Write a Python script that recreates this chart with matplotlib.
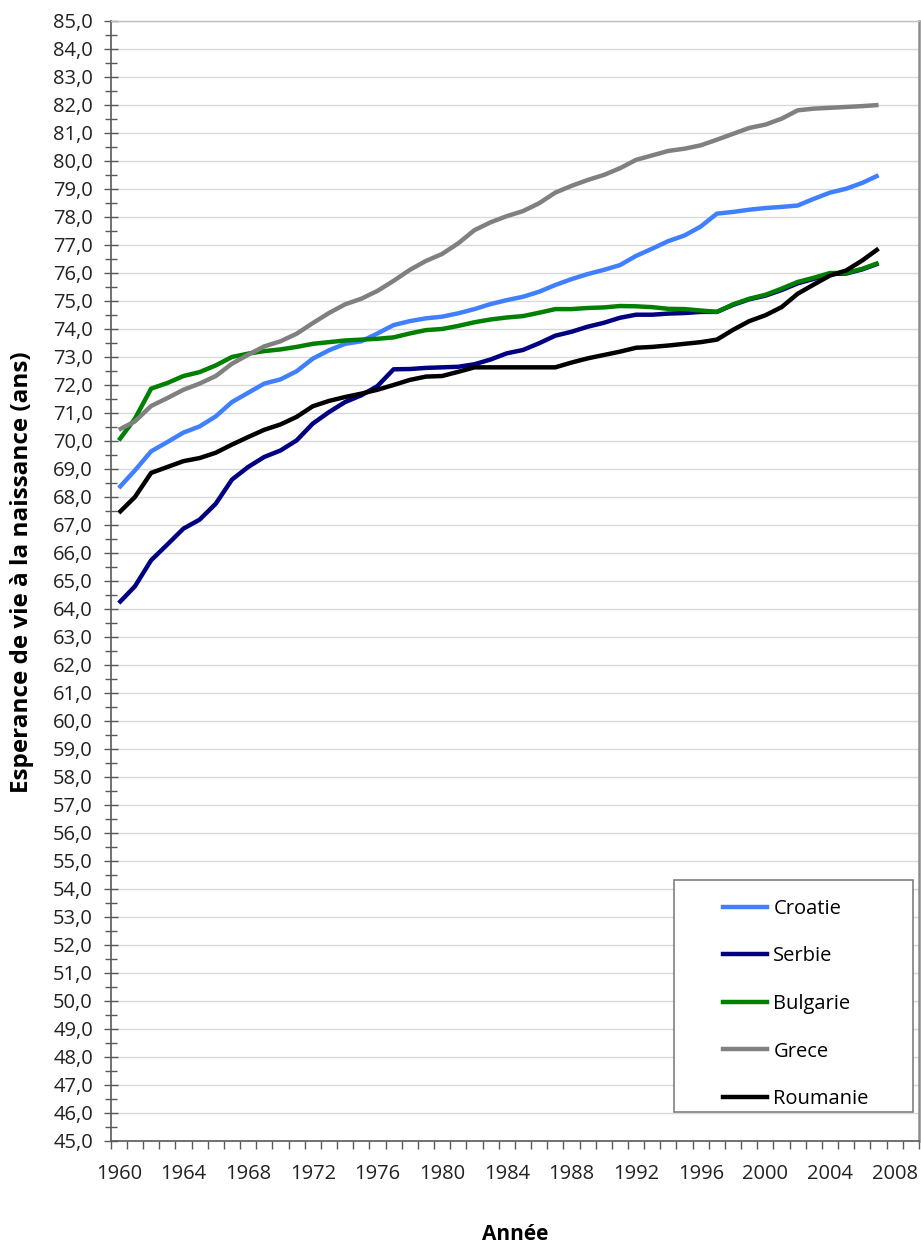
import matplotlib
matplotlib.use("Agg")
import matplotlib.pyplot as plt
from matplotlib.ticker import FixedLocator, MultipleLocator, FuncFormatter
from matplotlib.patches import Rectangle
from matplotlib.lines import Line2D

plt.rcParams['font.family'] = ['Open Sans', 'DejaVu Sans']

years = list(range(1960, 2008))

croatie = [68.31, 68.94, 69.62, 69.95, 70.29, 70.51, 70.87, 71.38, 71.71, 72.04,
           72.19, 72.48, 72.93, 73.23, 73.46, 73.55, 73.83, 74.13, 74.27, 74.37,
           74.43, 74.55, 74.70, 74.88, 75.02, 75.14, 75.32, 75.56, 75.77, 75.95,
           76.10, 76.27, 76.60, 76.86, 77.13, 77.33, 77.65, 78.11, 78.17, 78.25,
           78.31, 78.35, 78.40, 78.64, 78.86, 79.00, 79.21, 79.48]
serbie = [64.20, 64.80, 65.73, 66.29, 66.86, 67.18, 67.75, 68.61, 69.06, 69.42,
          69.65, 70.01, 70.61, 71.02, 71.38, 71.62, 71.95, 72.55, 72.56, 72.60,
          72.62, 72.64, 72.73, 72.90, 73.12, 73.24, 73.48, 73.75, 73.89, 74.07,
          74.21, 74.39, 74.50, 74.50, 74.54, 74.56, 74.60, 74.60, 74.85, 75.05,
          75.18, 75.38, 75.62, 75.78, 75.95, 75.97, 76.12, 76.33]
bulgarie = [70.01, 70.79, 71.86, 72.06, 72.31, 72.45, 72.69, 72.99, 73.11, 73.20,
            73.26, 73.35, 73.46, 73.52, 73.58, 73.61, 73.64, 73.69, 73.83, 73.95,
            73.99, 74.10, 74.23, 74.33, 74.40, 74.45, 74.57, 74.70, 74.70, 74.74,
            74.76, 74.81, 74.80, 74.77, 74.71, 74.70, 74.65, 74.60, 74.87, 75.07,
            75.21, 75.43, 75.67, 75.82, 75.99, 75.99, 76.14, 76.35]
grece = [70.39, 70.69, 71.24, 71.52, 71.82, 72.04, 72.31, 72.75, 73.07, 73.37,
         73.55, 73.82, 74.20, 74.56, 74.87, 75.07, 75.35, 75.71, 76.10, 76.42,
         76.67, 77.05, 77.52, 77.80, 78.02, 78.20, 78.48, 78.86, 79.10, 79.31,
         79.49, 79.73, 80.03, 80.19, 80.35, 80.43, 80.55, 80.75, 80.96, 81.17,
         81.29, 81.50, 81.80, 81.86, 81.89, 81.92, 81.95, 81.99]
roumanie = [67.42, 67.99, 68.85, 69.06, 69.27, 69.38, 69.57, 69.86, 70.13, 70.39,
            70.58, 70.85, 71.23, 71.42, 71.56, 71.68, 71.82, 71.99, 72.17, 72.29,
            72.31, 72.46, 72.62, 72.62, 72.62, 72.62, 72.62, 72.62, 72.79, 72.94,
            73.06, 73.18, 73.32, 73.35, 73.40, 73.46, 73.52, 73.61, 73.96, 74.27,
            74.48, 74.77, 75.25, 75.58, 75.90, 76.08, 76.44, 76.86]

series_names = ["Croatie", "Serbie", "Bulgarie", "Grece", "Roumanie"]
series_values = [croatie, serbie, bulgarie, grece, roumanie]
colors = ["#4080FF", "#000080", "#008000", "#808080", "#000000"]

x_tick_labels = list(range(1960, 2009, 4))
y_min, y_max = 45, 85

fig = plt.figure(figsize=(9.21, 12.48), dpi=100)
ax = fig.add_axes([0.1202, 0.0860, 0.8776, 0.8974])

for name, vals, c in zip(series_names, series_values, colors):
    ax.plot(years, vals, color=c, lw=3.2, label=name, solid_capstyle='butt', zorder=3)

ax.set_xlim(1959.5, 2009.5)
ax.set_ylim(y_min, y_max)

# y axis
ax.yaxis.set_major_locator(MultipleLocator(1))
ax.yaxis.set_minor_locator(MultipleLocator(0.5))
ax.yaxis.set_major_formatter(FuncFormatter(lambda v, p: f"{v:.1f}".replace('.', ',')))
ax.tick_params(axis='y', which='major', direction='inout', length=9.5, width=1,
               color='#595959', labelsize=14.5, pad=8, labelcolor='#222222')
ax.tick_params(axis='y', which='minor', direction='inout', length=8.5, width=1,
               color='#595959')

# x axis
ax.xaxis.set_major_locator(FixedLocator(x_tick_labels))
ax.xaxis.set_minor_locator(FixedLocator([y + 0.5 for y in range(1959, 2010)]))
ax.set_xticklabels([str(v) for v in x_tick_labels])
ax.tick_params(axis='x', which='major', length=0, labelsize=14.5, pad=17,
               labelcolor='#222222')
ax.tick_params(axis='x', which='minor', direction='out', length=6, width=1,
               color='#595959')

ax.grid(axis='y', which='major', color='#d9d9d9', lw=1, zorder=0)
ax.set_axisbelow(True)

for s in ['left', 'bottom']:
    ax.spines[s].set_color('#595959')
    ax.spines[s].set_linewidth(1.2)
ax.spines['top'].set_color('#bfbfbf')
ax.spines['top'].set_linewidth(1)
ax.spines['right'].set_color('#8c8c8c')
ax.spines['right'].set_linewidth(1.8)

fig.text(22 / 921, 1 - 572 / 1248, "Esperance de vie à la naissance (ans)",
         fontsize=17.5, fontweight='bold', rotation=90, ha='center', va='center')
fig.text(0.5598, 1 - 1240 / 1248, "Année", fontsize=15, fontweight='bold',
         ha='center', va='baseline')

# legend box
rect = Rectangle((0.6969, 0.0256), 0.2957, 0.2071, transform=ax.transAxes,
                 facecolor='white', edgecolor='#7f7f7f', lw=1.2, zorder=5)
ax.add_patch(rect)
handles = [Line2D([0], [0], color=c, lw=3.2) for c in colors]
leg = ax.legend(handles, series_names, loc='upper left', bbox_to_anchor=(0.7575, 0.216),
                frameon=False, borderpad=0, borderaxespad=0, fontsize=14.5,
                handlelength=2.2, handletextpad=0.3, labelspacing=1.37)
leg.set_zorder(6)

fig.savefig("out.png", dpi=100)
